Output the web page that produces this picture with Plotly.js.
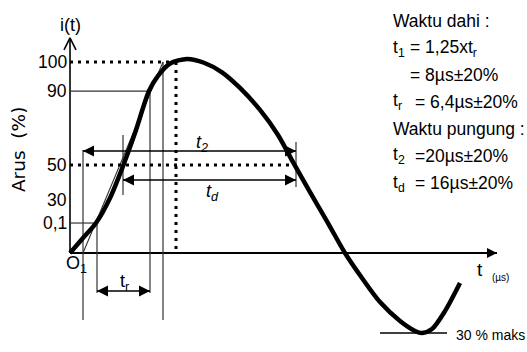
<!DOCTYPE html>
<html>
<head>
<meta charset="utf-8">
<script src="https://cdn.plot.ly/plotly-3.0.1.min.js"></script>
<style>html,body{margin:0;padding:0;background:#fff;}#chart{width:527px;height:352px;}</style>
</head>
<body>
<div id="chart"></div>
<script>
// ---- data (schematic units: time in µs, current in drawing-% units) ----
const curveT = [0, 1.3, 2.6, 4.0, 5.3, 6.5, 7.9, 8.8, 10.0, 11.7, 13.4, 15.2, 17.0, 19.0, 20.8, 22.3, 24.0, 25.8, 27.5, 29.2, 31.0, 33.0, 34.5, 35.2, 36.2, 37.5, 39.0];
const curveI = [0, 7.9, 15.7, 28.8, 45.5, 62.8, 84.8, 92.7, 99.2, 101.6, 99.6, 94.6, 86.4, 74.9, 61.8, 47.6, 31.9, 15.7, 0, -13.1, -25.7, -35.6, -40.8, -41.9, -39.8, -30.4, -15.7];

const levelLabels = ['100', '90', '50', '30', '0,1'];
const levelPos = [100, 84.8, 46.1, 27.7, 15.7];

// characteristic instants on the time axis (µs, schematic)
const tO1 = 1.3;        // virtual origin O1
const t01 = 2.7;        // 0,1 point
const t50r = 5.3;       // 50 % on the front
const t90 = 8.0;        // 90 % on the front
const tFront = 9.3;     // front line reaches 100 %
const tPeak = 10.6;     // peak
const t50f = 22.6;      // 50 % on the tail
const tAxisEnd = 42.7;  // end of time axis
const iAxisEnd = 112.6; // end of current axis
const tMinLine = [31.0, 37.7];
const iMin = -41.9;
const arrowLevels = {t2: 53.4, td: 38.2, tr: -19.9};

const sideLines = [
  'Waktu dahi :',
  't<sub>1</sub>',
  't<sub>r</sub>',
  'Waktu pungung :',
  't<sub>2</sub>',
  't<sub>d</sub>'
];
const sideValues = ['= 1,25xt<sub>r</sub>', '= 8µs±20%', '= 6,4µs±20%', '=20µs±20%', '= 16µs±20%'];

// ---- helpers ----
const BLACK = '#000';
const THIN = '#333';
const traces = [];
function seg(xs, ys, color, width, dash) {
  traces.push({x: xs, y: ys, type: 'scatter', mode: 'lines', hoverinfo: 'skip', showlegend: false,
    line: {color: color, width: width, dash: dash || 'solid'}});
}
function dblArrow(x0, x1, y) {
  traces.push({x: [x0, x1], y: [y, y], type: 'scatter', mode: 'lines+markers', hoverinfo: 'skip', showlegend: false,
    line: {color: BLACK, width: 1.6},
    marker: {symbol: ['arrow-left', 'arrow-right'], size: 11, color: BLACK, line: {width: 0}}});
}

// axes
seg([0, 0], [0, iAxisEnd], BLACK, 1.6);
seg([-0.6, 0, 0.6], [106.3, iAxisEnd, 106.3], BLACK, 1.6);
seg([0, tAxisEnd], [0, 0], BLACK, 2);
traces.push({x: [tAxisEnd], y: [0], type: 'scatter', mode: 'markers', hoverinfo: 'skip', showlegend: false,
  marker: {symbol: 'arrow-right', size: 10, color: BLACK, line: {width: 0}}});

// helper thin lines
seg([0, t90], [levelPos[1], levelPos[1]], THIN, 1.2);
seg([0, t01], [levelPos[4], levelPos[4]], THIN, 1.2);
seg([tO1, tFront], [0, 100], THIN, 1.1);
seg([tO1, tO1], [53.9, -35.1], THIN, 1.2);
seg([t01, t01], [levelPos[4], -21], THIN, 1.2);
seg([t90, t90], [levelPos[1], -21], THIN, 1.2);
seg([tFront, tFront], [100, -35.1], THIN, 1.2);
seg([t50r, t50r], [61.8, 30.4], THIN, 1.2);
seg([t50f, t50f], [58.1, 34.6], THIN, 1.2);
seg(tMinLine, [iMin, iMin], BLACK, 1.4);

// dotted reference lines
seg([0, tPeak], [100, 100], BLACK, 3, '3px,5px');
seg([tPeak, tPeak], [100, 0], BLACK, 3, '3px,5px');
seg([0, t50f], [levelPos[2], levelPos[2]], BLACK, 3, '3px,5px');

// time-interval arrows
dblArrow(tO1, t50f, arrowLevels.t2);
dblArrow(t50r, t50f, arrowLevels.td);
dblArrow(t01, t90, arrowLevels.tr);

// current waveform
traces.push({x: curveT, y: curveI, type: 'scatter', mode: 'lines', hoverinfo: 'skip', showlegend: false,
  line: {color: BLACK, width: 4.5, shape: 'spline', smoothing: 0.8}});

// ---- text annotations ----
const ann = [];
const NARROW = 'Liberation Sans, Arial, sans-serif';
function txt(x, y, text, size, xanchor, extra) {
  ann.push(Object.assign({x: x, y: y, xref: 'x', yref: 'y', text: text, showarrow: false,
    xanchor: xanchor || 'center', yanchor: 'middle',
    font: {family: NARROW, size: size, color: BLACK}}, extra || {}));
}
// tick labels
levelLabels.forEach((lab, i) => txt(-0.15, levelPos[i], lab, 17.5, 'right'));
txt(0, 119.6, 'i(t)', 18, 'center');
txt(-5.2, 53.9, 'Arus  (%)', 19, 'center', {textangle: -90, font: {family: 'DejaVu Sans, sans-serif', size: 18.5, color: BLACK}});
txt(-0.6, -5.8, 'O<sub>1</sub>', 18, 'left');
txt(13.2, 57.5, '<i>t<sub>2</sub></i>', 18, 'center');
txt(14.2, 31.9, '<i>t<sub>d</sub></i>', 18, 'center');
txt(5.4, -15.5, 't<sub>r</sub>', 18, 'center');
txt(41.0, -8.4, 't', 19, 'center');
txt(43.0, -12.8, '(µs)', 10, 'center');
txt(38.4, -42.9, '30 % maks', 14, 'left');

// right-hand text block
const sx = 32.1, sxEq1 = 33.8, sxEq2 = 34.3, FS = 17.5;
const rowY = [121.5, 107.3, 93.2, 79.1, 64.9, 50.8, 36.6];
txt(sx, rowY[0], sideLines[0], FS, 'left');
txt(sx, rowY[1], sideLines[1], FS, 'left');
txt(sxEq1, rowY[1], sideValues[0], FS, 'left');
txt(sxEq1, rowY[2], sideValues[1], FS, 'left');
txt(sx, rowY[3], sideLines[2], FS, 'left');
txt(sxEq2, rowY[3], sideValues[2], FS, 'left');
txt(sx, rowY[4], sideLines[3], FS, 'left');
txt(sx, rowY[5], sideLines[4], FS, 'left');
txt(sxEq2, rowY[5], sideValues[3], FS, 'left');
txt(sx, rowY[6], sideLines[5], FS, 'left');
txt(sxEq2, rowY[6], sideValues[4], FS, 'left');

const layout = {
  width: 527, height: 352,
  margin: {l: 0, r: 0, t: 0, b: 0, pad: 0},
  paper_bgcolor: '#fff', plot_bgcolor: '#fff',
  showlegend: false,
  xaxis: {range: [-7, 45.7], visible: false, fixedrange: true},
  yaxis: {range: [-51.83, 132.46], visible: false, fixedrange: true},
  annotations: ann
};
Plotly.newPlot('chart', traces, layout, {staticPlot: true, displayModeBar: false});
</script>
</body>
</html>
